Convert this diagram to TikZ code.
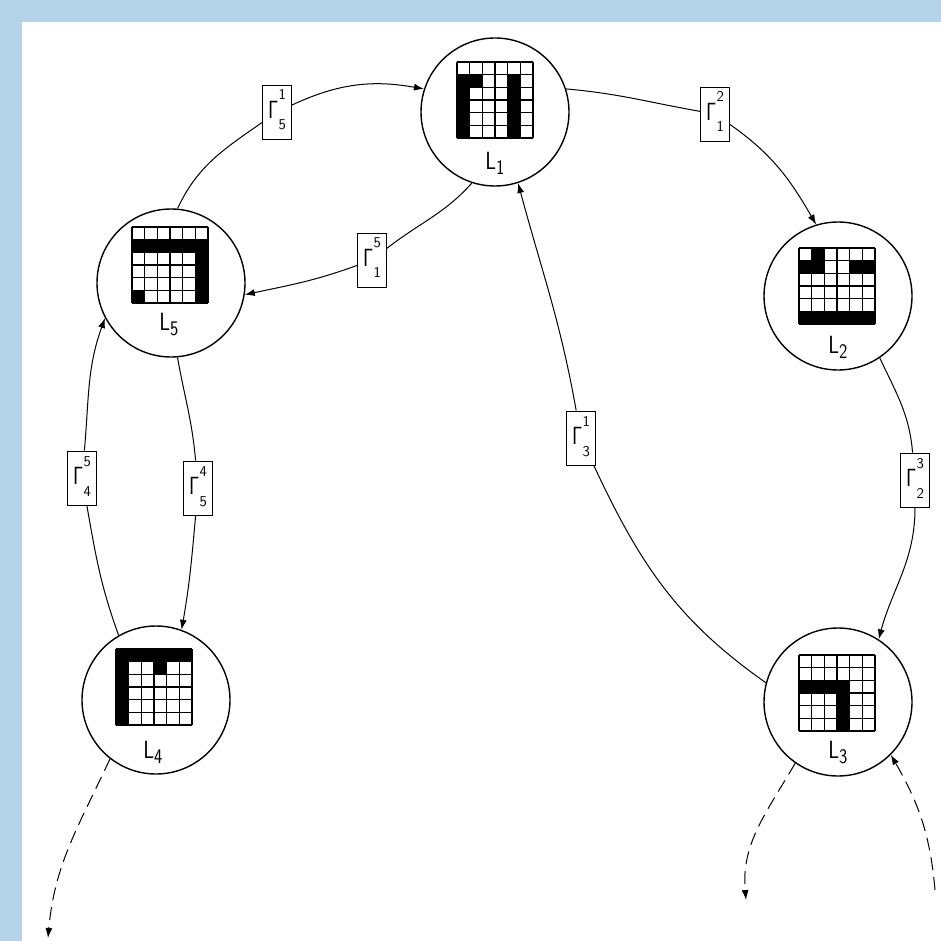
\documentclass[tikz,border=0pt]{standalone}
\usetikzlibrary{arrows.meta}
\definecolor{frameblue}{RGB}{181,211,232}
\tikzset{
  state/.style={circle,draw,line width=1.4pt,minimum size=148pt,inner sep=0pt},
  glab/.style={draw,fill=white,line width=0.9pt,minimum width=29pt,minimum height=54pt,inner sep=0pt,font=\fontsize{30}{30}\selectfont},
  arr/.style={line width=1pt,-{Latex[length=10pt,width=7pt]}},
  darr/.style={arr,dash pattern=on 13pt off 7pt},
  lname/.style={font=\fontsize{30}{30}\selectfont,inner sep=0pt},
  gridline/.style={line width=1.4pt}
}
\newcommand\cellgrid[3]{%
  \foreach \c/\r in {#3} {\fill (#1+\c*12.67,-#2-\r*12.67) rectangle ++(12.67,-12.67);}
  \foreach \k in {0,...,6} {
    \draw[gridline] (#1+\k*12.67,-#2) -- ++(0,-76);
    \draw[gridline] (#1,-#2-\k*12.67) -- ++(76,0);
  }}
\newcommand\glabel[2]{\scalebox{0.8}[1]{$\mathsf{\Gamma}$}\kern0.5pt\raisebox{3pt}{\fontsize{15}{15}\selectfont\sffamily\begin{tabular}{@{}c@{}}#1\\[15pt]#2\end{tabular}}}
\begin{document}
\begin{tikzpicture}[x=1pt,y=1pt]
\useasboundingbox (0,0) rectangle (941,-941);
\fill[frameblue] (0,0) rectangle (941,-941);
\fill[white] (22,-22) rectangle (941,-941);

% states
\node[state] (L1) at (495,-112) {};
\node[state] (L2) at (838,-296) {};
\node[state] (L3) at (838,-702) {};
\node[state] (L4) at (156,-700) {};
\node[state] (L5) at (171,-283) {};

\cellgrid{457}{62}{0/1,1/1,4/1,0/2,4/2,0/3,4/3,0/4,4/4,0/5,4/5}
\cellgrid{799}{248}{1/0,0/1,1/1,4/1,5/1,0/5,1/5,2/5,3/5,4/5,5/5}
\cellgrid{799}{655}{0/2,1/2,2/2,3/2,3/3,3/4,3/5}
\cellgrid{116}{649}{0/0,1/0,2/0,3/0,4/0,5/0,0/1,3/1,0/2,0/3,0/4,0/5}
\cellgrid{132}{227}{0/1,1/1,2/1,3/1,4/1,5/1,5/2,5/3,5/4,5/5,0/5}

\node[lname] (n1) at (495,-163) {\scalebox{0.85}[1]{$\mathsf{L}_{\mathsf{1}}$}};
\node[lname] (n2) at (838,-347) {\scalebox{0.85}[1]{$\mathsf{L}_{\mathsf{2}}$}};
\node[lname] (n3) at (838,-752) {\scalebox{0.85}[1]{$\mathsf{L}_{\mathsf{3}}$}};
\node[lname] (n4) at (153,-752) {\scalebox{0.85}[1]{$\mathsf{L}_{\mathsf{4}}$}};
\node[lname] (n5) at (169,-324) {\scalebox{0.85}[1]{$\mathsf{L}_{\mathsf{5}}$}};

% edge labels
\node[glab] (g51) at (277,-112) {\glabel{1}{5}};
\node[glab] (g15) at (372,-260) {\glabel{5}{1}};
\node[glab] (g12) at (715,-114) {\glabel{2}{1}};
\node[glab] (g23) at (915,-480) {\glabel{3}{2}};
\node[glab] (g31) at (581,-438) {\glabel{1}{3}};
\node[glab] (g54) at (198,-488) {\glabel{4}{5}};
\node[glab] (g45) at (82,-478) {\glabel{5}{4}};

% connectors
\draw[arr] (L5.85) to[out=65,in=215] (g51) to[out=25,in=170] (L1.162);
\draw[arr] (L1.252) to[out=228,in=38] (g15) to[out=200,in=12] (L5.-9);
\draw[arr] (L1.18) to[out=-5,in=170] (g12) to[out=-35,in=120] (L2.107);
\draw[arr] (L2.-56) to[out=-65,in=95] (g23) to[out=-90,in=75] (L3.57);
\draw[arr] (L3.165) to[out=145,in=-65] (g31) to[out=100,in=-75] (L1.-72);
\draw[arr] (L5.-85) to[out=-80,in=95] (g54) to[out=-95,in=80] (L4.70);
\draw[arr] (L4.120) to[out=110,in=-80] (g45) to[out=85,in=250] (L5.208);

% dashed
\coordinate (d1) at (48,-938);
\coordinate (d2) at (746,-900);
\coordinate (d3) at (935,-890);
\draw[darr] (L4.232) to[out=245,in=85] (d1);
\draw[darr] (L3.235) to[out=240,in=95] (d2);
\draw[darr] (d3) to[out=95,in=-60] (L3.-45);
\end{tikzpicture}
\end{document}
